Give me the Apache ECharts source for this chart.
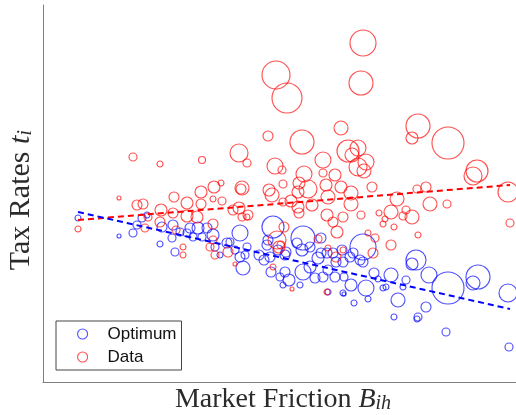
<!DOCTYPE html>
<html>
<head>
<meta charset="utf-8">
<script src="https://cdn.jsdelivr.net/npm/echarts@6/dist/echarts.min.js"></script>
<style>
  html, body { margin: 0; padding: 0; background: #fff; }
  #chart { width: 516px; height: 415px; }
</style>
</head>
<body>
<div id="chart"></div>
<script>
// Observed tax rates per region: [market friction B, tax rate t, weight]
const dataPoints = [
  [0.35,0.153,3],[0.76,0.184,2],[0.90,0.225,4],[1.17,0.218,3],[1.59,0.222,3.5],
  [1.96,0.229,9],[2.04,0.219,4],[0.94,0.177,5],[1.00,0.178,5],[1.31,0.185,5],
  [1.44,0.179,6],[1.58,0.190,6],[1.71,0.195,6],[1.78,0.199,3],[1.70,0.183,3],
  [1.79,0.181,4],[1.99,0.194,7],[1.98,0.193,5],[1.58,0.178,5],[1.18,0.172,6],
  [3.20,0.339,13],[2.33,0.307,14],[2.44,0.284,15],[3.18,0.299,12],[2.25,0.246,5],
  [2.59,0.240,12],[2.98,0.254,7],[3.75,0.256,12],[3.69,0.244,6],[4.05,0.239,16],
  [3.05,0.231,11],[3.15,0.234,8],[3.09,0.227,7],[2.80,0.222,8],[2.32,0.216,8],
  [2.39,0.212,4],[2.61,0.208,8],[2.80,0.209,4],[2.92,0.207,6],[3.23,0.220,8],
  [3.15,0.215,9],[3.21,0.211,7],[4.34,0.211,11],[4.30,0.206,9],[2.26,0.192,6],
  [2.29,0.187,7],[2.40,0.198,4],[2.56,0.199,6],[2.65,0.193,9],[2.83,0.197,6],
  [2.98,0.195,6],[3.08,0.189,7],[3.29,0.195,5],[2.55,0.190,6],[3.74,0.193,4],
  [3.83,0.195,5],[4.65,0.190,10],[3.54,0.183,7],[2.85,0.185,7],[3.87,0.178,7],
  [4.04,0.178,4],[3.08,0.178,7],[2.48,0.181,6],[2.40,0.180,4],[1.96,0.174,6],
  [2.05,0.167,5],[2.55,0.175,6],[2.69,0.177,6],[2.84,0.167,6],[3.00,0.165,5],
  [2.90,0.160,5],[1.70,0.158,5],[2.94,0.150,6],[2.75,0.143,4],[2.34,0.142,9],
  [1.85,0.130,5],[1.72,0.127,4],[2.36,0.135,6],[2.30,0.115,3],[1.92,0.118,2],
  [2.93,0.125,5],[2.49,0.093,2],[2.84,0.090,3],[3.18,0.167,4],[3.48,0.170,7],
  [3.63,0.172,4],[3.69,0.165,7],[3.36,0.169,3],[3.42,0.163,3],[3.40,0.158,3],
  [3.60,0.166,4],[3.51,0.155,3],[4.67,0.159,4],[3.75,0.147,3],[3.48,0.137,5],
  [3.32,0.144,4],[3.25,0.149,3],[3.30,0.129,5],[1.02,0.154,4],[1.17,0.160,5],
  [1.33,0.152,4],[1.40,0.135,3],[1.40,0.127,3],[1.67,0.135,4],[1.05,0.165,4],
  [1.30,0.169,5],[1.44,0.166,6],[1.54,0.165,6],[1.90,0.172,5],[1.99,0.165,4],
  [2.04,0.165,3],[1.70,0.142,4],[2.41,0.155,5],[2.38,0.137,4],[2.85,0.134,3],
  [3.00,0.132,3],[2.56,0.169,5]
];

// Model-optimal tax rates per region: [market friction B, tax rate t, weight]
const optimumPoints = [
  [0.35,0.164,3],[0.76,0.146,2],[0.90,0.149,4],[0.94,0.157,4],[0.99,0.164,4],
  [1.04,0.167,3],[1.17,0.138,3],[1.19,0.155,5],[1.30,0.157,5],[1.32,0.130,4],
  [1.29,0.144,4],[1.37,0.150,4],[1.47,0.154,5],[1.55,0.154,6],[1.59,0.145,4],
  [1.70,0.147,6],[1.77,0.127,3],[1.87,0.140,4],[1.97,0.149,8],[2.00,0.114,7],
  [1.97,0.125,5],[2.04,0.135,4],[1.92,0.132,4],[1.44,0.149,4],[1.50,0.145,4],
  [1.64,0.154,5],[1.72,0.135,4],[1.84,0.139,5],[2.02,0.127,4],[2.30,0.155,11],
  [2.24,0.137,5],[2.35,0.132,5],[2.27,0.125,5],[2.42,0.127,5],[2.60,0.144,12],
  [2.59,0.132,6],[2.54,0.139,5],[2.67,0.135,5],[2.75,0.124,6],[2.67,0.115,6],
  [2.60,0.110,8],[2.42,0.110,5],[2.37,0.105,4],[2.40,0.097,3],[2.57,0.097,3],
  [2.72,0.104,5],[2.92,0.105,5],[3.00,0.120,5],[2.90,0.129,5],[2.99,0.132,5],
  [2.84,0.129,5],[3.00,0.089,3],[2.85,0.090,3],[3.20,0.135,13],[2.46,0.102,6],
  [2.80,0.105,5],[3.08,0.097,6],[3.23,0.094,8],[3.31,0.109,5],[3.35,0.103,3],
  [3.43,0.095,3],[3.48,0.107,7],[3.60,0.095,3],[3.63,0.102,4],[3.73,0.122,10],
  [3.69,0.118,6],[3.86,0.107,8],[4.05,0.094,16],[4.30,0.099,7],[4.35,0.105,12],
  [4.65,0.089,9],[3.55,0.082,7],[3.83,0.075,5],[3.51,0.065,3],[3.75,0.065,4],
  [3.74,0.063,3],[4.03,0.050,4],[4.66,0.035,4],[3.11,0.079,3],[3.25,0.083,3],
  [3.01,0.088,2],[2.28,0.110,5],[2.21,0.122,5],[2.16,0.127,5],[2.78,0.144,5],
  [2.85,0.112,5],[3.01,0.105,4],[2.25,0.142,5],[3.07,0.125,5],[3.17,0.122,5],
  [3.40,0.094,3],[2.78,0.129,5],[3.10,0.129,5],[2.93,0.120,5],[2.43,0.130,5],
  [3.20,0.120,5]
];

// Linear fits (end points)
const dataFit = [[0.35,0.162],[4.67,0.197]];
const optimumFit = [[0.35,0.170],[4.67,0.073]];

const seriesNames = ['Optimum', 'Data'];
const xRange = [0, 4.73];
const yRange = [0, 0.377];

const RED = 'rgba(255,0,0,0.85)';
const BLUE = 'rgba(0,0,255,0.85)';
const SERIF = "'Liberation Serif', 'Times New Roman', serif";
const INK = '#2b2b2b';

const chart = echarts.init(document.getElementById('chart'), null, { renderer: 'canvas' });

const hidden = { show: false };
const axisCommon = {
  type: 'value',
  axisLine: { show: true, onZero: false, lineStyle: { color: '#808080', width: 1 } },
  axisTick: hidden, axisLabel: hidden, splitLine: hidden
};

const bubble = (name, data, color, z) => ({
  name, type: 'scatter', data, z, clip: false,
  symbol: 'circle',
  symbolSize: v => v[2] * 2,
  itemStyle: { color: 'rgba(0,0,0,0)', borderColor: color, borderWidth: 1.15 },
  emphasis: { disabled: true }, silent: true
});

const fitLine = (data, color) => ({
  type: 'line', data, showSymbol: false, z: 5, silent: true,
  lineStyle: { color, width: 2, type: [6, 4] },
  emphasis: { disabled: true }
});

chart.setOption({
  animation: false,
  backgroundColor: '#fff',
  grid: { left: 43, right: 0, top: 5, bottom: 33 },
  xAxis: Object.assign({ min: xRange[0], max: xRange[1] }, axisCommon),
  yAxis: Object.assign({ min: yRange[0], max: yRange[1] }, axisCommon),
  legend: {
    orient: 'vertical', left: 56, top: 321,
    padding: [3, 5, 3, 21], itemGap: 3,
    itemWidth: 10, itemHeight: 10,
    backgroundColor: '#fff', borderColor: '#444', borderWidth: 1,
    textStyle: { fontFamily: "'Liberation Sans', Arial, sans-serif", fontSize: 17, color: '#111', lineHeight: 20, padding: [0, 0, 0, 15] },
    data: [
      { name: seriesNames[0], icon: 'circle', itemStyle: { color: 'rgba(0,0,0,0)', borderColor: BLUE, borderWidth: 1.15 } },
      { name: seriesNames[1], icon: 'circle', itemStyle: { color: 'rgba(0,0,0,0)', borderColor: RED, borderWidth: 1.15 } }
    ]
  },
  graphic: [
    {
      type: 'text', x: 21, y: 200, rotation: Math.PI / 2, silent: true,
      style: {
        text: '{a|Tax Rates }{b|t}{c|i}', align: 'center', verticalAlign: 'middle', fill: INK,
        rich: {
          a: { fontFamily: SERIF, fontSize: 30, lineHeight: 30, fill: INK },
          b: { fontFamily: SERIF, fontSize: 30, lineHeight: 30, fontStyle: 'italic', fill: INK },
          c: { fontFamily: SERIF, fontSize: 21, lineHeight: 12, fontStyle: 'italic', verticalAlign: 'bottom', fill: INK }
        }
      }
    },
    {
      type: 'text', x: 283, y: 400, silent: true,
      style: {
        text: '{a|Market Friction }{b|B}{c|ih}', align: 'center', verticalAlign: 'middle', fill: INK,
        rich: {
          a: { fontFamily: SERIF, fontSize: 28, lineHeight: 28, fill: INK },
          b: { fontFamily: SERIF, fontSize: 28, lineHeight: 28, fontStyle: 'italic', fill: INK },
          c: { fontFamily: SERIF, fontSize: 20, lineHeight: 11, fontStyle: 'italic', verticalAlign: 'bottom', fill: INK }
        }
      }
    }
  ],
  series: [
    bubble(seriesNames[0], optimumPoints, BLUE, 2),
    bubble(seriesNames[1], dataPoints, RED, 3),
    fitLine(dataFit, 'rgb(255,0,0)'),
    fitLine(optimumFit, 'rgb(0,0,255)')
  ]
});
</script>
</body>
</html>
